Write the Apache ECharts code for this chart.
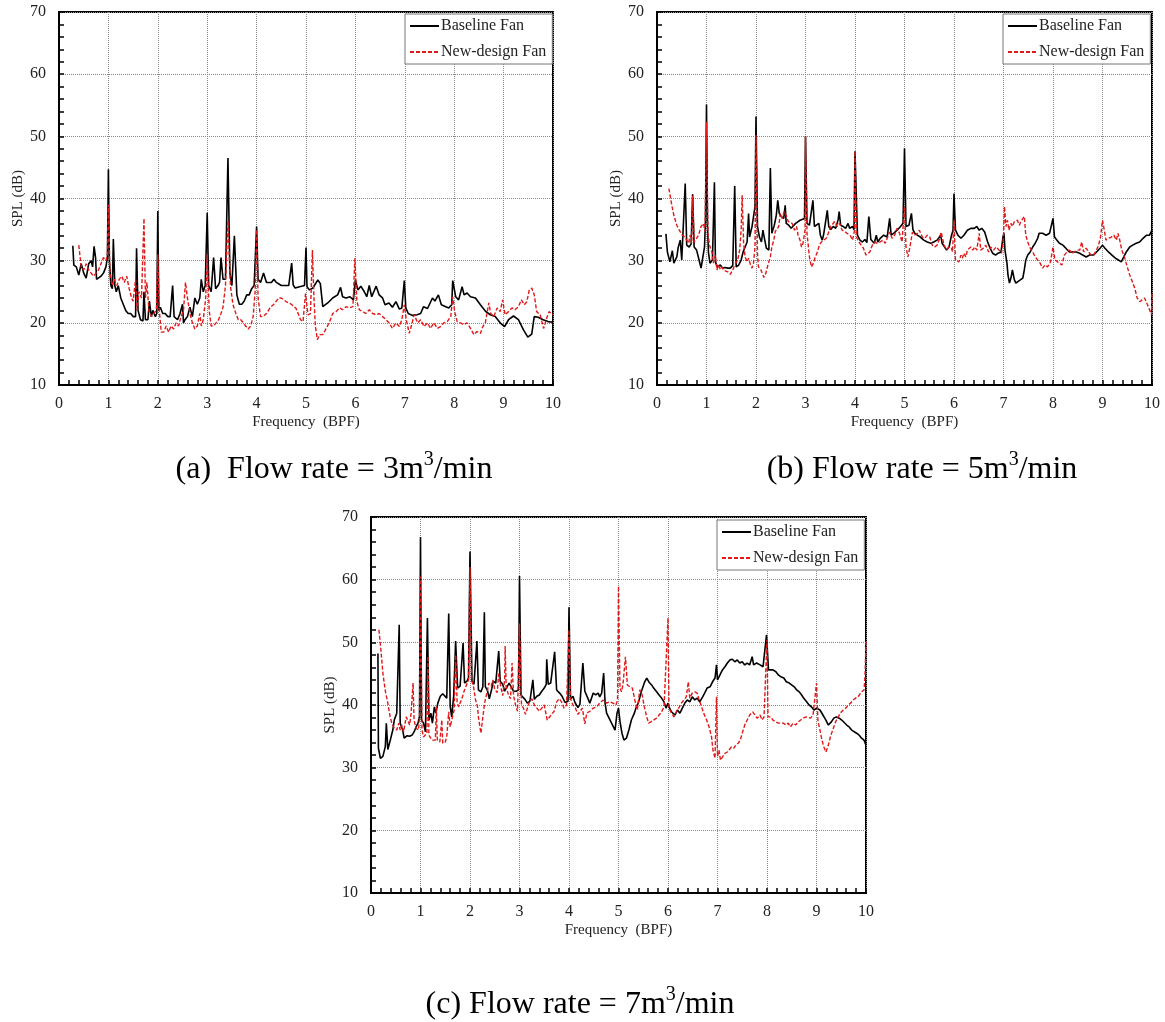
<!DOCTYPE html>
<html>
<head>
<meta charset="utf-8">
<script src="https://cdn.jsdelivr.net/npm/echarts@6/dist/echarts.min.js"></script>
<style>
html,body{margin:0;padding:0;background:#fff;}
#chart{width:1165px;height:1022px;}
</style>
</head>
<body>
<div id="chart"></div>
<script>
// ---------- data (Frequency in BPF, SPL in dB) ----------
const seriesNames = ['Baseline Fan', 'New-design Fan'];
const panelCaptions = ['(a)  Flow rate = 3m', '(b) Flow rate = 5m', '(c) Flow rate = 7m'];
const xTickRange = [0, 10];
const yTickRange = [10, 70];

const baselineA = [[0.28,32.4],[0.3,29.3],[0.35,29],[0.4,27.7],[0.45,29.5],[0.5,28],[0.55,27.2],[0.6,29.5],[0.65,30],[0.68,29],[0.71,32.3],[0.74,30.5],[0.76,27],[0.8,27],[0.85,27.5],[0.9,28],[0.95,29],[0.98,30.5],[1.0,44.7],[1.02,30],[1.05,26],[1.08,25.5],[1.1,33.5],[1.13,26],[1.16,25],[1.2,26],[1.25,24],[1.3,23],[1.35,22],[1.4,21.5],[1.45,21.5],[1.5,21],[1.55,21],[1.57,32],[1.6,22],[1.65,20.5],[1.7,20.3],[1.72,25],[1.75,20.5],[1.8,20.5],[1.83,23.5],[1.87,21],[1.9,22],[1.95,21],[1.98,21.5],[2.0,38],[2.02,22],[2.05,22.5],[2.1,21.5],[2.15,21.5],[2.2,21],[2.25,21],[2.3,26],[2.33,21],[2.4,20.5],[2.45,21.5],[2.5,23],[2.52,20],[2.55,20.5],[2.6,21],[2.65,22.5],[2.7,21],[2.75,24],[2.8,23],[2.85,24],[2.88,27],[2.92,25],[2.96,26],[3.0,37.7],[3.03,26],[3.08,25],[3.13,30.5],[3.17,25.5],[3.22,26],[3.25,26.5],[3.28,30.5],[3.32,27],[3.37,27],[3.42,46.5],[3.46,28],[3.5,26],[3.55,34],[3.6,24.5],[3.65,23],[3.7,23],[3.75,23.5],[3.8,24.5],[3.85,24.5],[3.9,25.5],[3.95,26],[4.0,35.5],[4.03,27],[4.08,26.5],[4.14,28],[4.2,26.5],[4.3,26.5],[4.35,27],[4.4,26.5],[4.5,26],[4.6,26],[4.65,26],[4.71,29.6],[4.74,26.1],[4.78,25.6],[4.87,25.8],[4.97,26],[5.0,32.1],[5.02,25.8],[5.07,25.3],[5.14,25.6],[5.24,26.9],[5.29,26.3],[5.34,22.6],[5.44,23.2],[5.54,24],[5.64,24.5],[5.7,25.7],[5.74,24.2],[5.81,24],[5.89,24.2],[5.96,23.7],[6.0,26.9],[6.05,25.3],[6.11,25.9],[6.18,25],[6.23,24.2],[6.28,26],[6.33,24.2],[6.42,25.9],[6.48,24.5],[6.55,24],[6.6,22.9],[6.68,23.2],[6.75,22.5],[6.82,23.4],[6.89,22.2],[6.94,22.4],[6.99,26.8],[7.02,22.4],[7.07,21.5],[7.15,21.2],[7.25,21.3],[7.32,21.5],[7.38,22.6],[7.46,22.3],[7.56,24],[7.61,23.5],[7.68,24.5],[7.74,22.9],[7.83,22.6],[7.89,22.4],[7.95,22.9],[7.97,26.8],[8.03,24.2],[8.09,23.7],[8.16,25.8],[8.2,24.5],[8.26,24.8],[8.33,24.2],[8.43,24],[8.53,22.9],[8.63,21.9],[8.73,21.3],[8.83,21],[8.93,20],[9.02,19.4],[9.1,20.5],[9.2,21.1],[9.3,20.5],[9.4,18.9],[9.49,17.7],[9.57,18.2],[9.62,21],[9.7,20.9],[9.8,20.5],[9.9,20.2],[10,20.1]];

const newDesignA = [[0.4,32.5],[0.45,29],[0.5,28.5],[0.55,29.5],[0.6,28.5],[0.65,28],[0.7,27.5],[0.75,28],[0.8,28.5],[0.85,29.5],[0.9,30.5],[0.95,30],[0.98,31],[1.0,39],[1.03,28],[1.08,26],[1.12,27],[1.17,26],[1.22,27],[1.27,27.5],[1.32,26.5],[1.37,27.5],[1.42,25.5],[1.47,24],[1.5,23.5],[1.55,27],[1.58,22],[1.62,25],[1.67,24],[1.72,36.8],[1.75,24],[1.78,26.5],[1.82,22],[1.87,21],[1.92,21.5],[1.97,22],[2.0,31],[2.03,22],[2.07,18.5],[2.12,18.5],[2.17,19.5],[2.22,18.5],[2.27,19.5],[2.32,19],[2.37,20],[2.42,19.5],[2.47,21],[2.52,22],[2.56,26.5],[2.6,24],[2.65,21.5],[2.7,20],[2.75,19],[2.8,19.5],[2.85,21.5],[2.88,19.5],[2.92,20.5],[2.97,24],[3.0,31],[3.04,22],[3.08,19.5],[3.13,19.5],[3.18,20],[3.23,20.5],[3.28,21.5],[3.32,22.5],[3.37,26],[3.42,36.5],[3.47,26],[3.52,23],[3.58,21.5],[3.63,20.5],[3.68,20.5],[3.73,20],[3.78,19.5],[3.83,19],[3.88,19.5],[3.93,21],[3.97,25],[4.0,35],[4.03,24],[4.08,21],[4.13,21],[4.2,21.5],[4.28,22.5],[4.35,23],[4.45,24],[4.5,24],[4.6,23.4],[4.7,23],[4.8,22.3],[4.89,20.5],[4.94,20.2],[4.99,24.7],[5.04,21.3],[5.09,21.5],[5.13,31.7],[5.16,24.2],[5.19,19.4],[5.23,17.3],[5.28,18.1],[5.34,18.1],[5.41,19.1],[5.48,20.2],[5.54,21.5],[5.61,21.8],[5.68,22.4],[5.74,22.1],[5.81,22.6],[5.88,22.4],[5.95,22.6],[5.99,30.4],[6.03,23.4],[6.08,22.1],[6.15,21.8],[6.21,21.5],[6.28,22.1],[6.35,21.5],[6.42,21.3],[6.48,21.5],[6.55,21],[6.62,20.5],[6.68,20],[6.75,19.1],[6.82,20],[6.89,19.4],[6.94,20.5],[6.99,22.9],[7.03,20.5],[7.09,18.3],[7.13,19.4],[7.19,21.3],[7.26,20],[7.32,20.5],[7.39,19.4],[7.46,20],[7.52,19.1],[7.59,20],[7.66,19.1],[7.72,19.4],[7.79,20],[7.86,20.2],[7.93,21],[7.97,24.2],[8.01,21.8],[8.06,20.2],[8.13,20],[8.19,19.7],[8.26,20],[8.33,19.1],[8.4,18.1],[8.46,18.6],[8.53,18.3],[8.58,19.4],[8.63,20],[8.7,23.2],[8.74,21.5],[8.8,21],[8.87,22.4],[8.93,21.8],[8.98,23.7],[9.03,21.3],[9.1,21.8],[9.17,22.4],[9.23,22.1],[9.3,22.6],[9.36,23.7],[9.42,22.9],[9.47,23.4],[9.52,25.3],[9.57,25.6],[9.62,24.5],[9.67,21.8],[9.74,21.3],[9.81,19.1],[9.87,20.7],[9.92,21.8],[10,21.3]];

const baselineB = [[0.18,34.3],[0.21,31.4],[0.26,29.8],[0.31,31.6],[0.34,29.6],[0.4,30.6],[0.43,32.2],[0.47,33.3],[0.5,30.1],[0.53,30.4],[0.57,42.4],[0.6,32.5],[0.65,32.2],[0.69,32.7],[0.72,40.7],[0.75,32.2],[0.8,31.7],[0.85,30.1],[0.89,28.8],[0.93,29],[0.96,32.2],[0.98,36.5],[1.0,55.1],[1.02,35.5],[1.04,31.3],[1.07,29.6],[1.12,30.1],[1.16,42.6],[1.18,29.8],[1.22,29],[1.28,29.3],[1.32,28.8],[1.38,28.9],[1.43,28.8],[1.48,28.8],[1.53,29.2],[1.57,42],[1.6,29],[1.65,29.3],[1.7,30.1],[1.74,31.4],[1.78,32.2],[1.82,33],[1.85,37.6],[1.87,33.8],[1.92,35.5],[1.95,37.1],[1.98,38.7],[2.0,53.2],[2.03,35.5],[2.07,33.8],[2.11,33],[2.14,34.9],[2.17,33.6],[2.21,32],[2.26,31.7],[2.29,44.9],[2.32,34.4],[2.37,35.7],[2.41,37.3],[2.44,39.7],[2.47,37.6],[2.51,37.1],[2.56,36.8],[2.59,38.9],[2.61,36],[2.66,35.7],[2.71,35.2],[2.75,35.5],[2.8,36],[2.84,36.3],[2.89,36.5],[2.93,36.3],[2.98,36.8],[3.0,50],[3.03,36],[3.08,35.7],[3.11,35.5],[3.15,39.7],[3.18,35.5],[3.22,35.7],[3.27,36],[3.3,34.1],[3.34,33.3],[3.37,34.4],[3.41,34.6],[3.44,38.1],[3.47,35.5],[3.51,35],[3.56,35.5],[3.61,35.2],[3.66,36.6],[3.68,37.9],[3.71,35.7],[3.76,35.5],[3.81,35.2],[3.86,36],[3.89,35.2],[3.95,35.5],[3.98,35],[4.0,47.6],[4.05,34.1],[4.1,33.3],[4.15,33],[4.2,33.4],[4.24,32.9],[4.28,37.1],[4.32,33.4],[4.39,32.8],[4.43,34.1],[4.46,33],[4.51,33.6],[4.58,34.1],[4.65,33.8],[4.7,36.8],[4.73,34.1],[4.78,34.4],[4.85,34.9],[4.92,35.5],[4.97,36],[5.0,48.1],[5.03,35.5],[5.07,35.7],[5.09,35.7],[5.14,37.6],[5.17,35],[5.21,34.4],[5.26,34.1],[5.32,33.8],[5.39,33.3],[5.46,33],[5.53,32.8],[5.59,33],[5.66,33.3],[5.73,34.1],[5.76,32.8],[5.8,32.5],[5.85,31.7],[5.9,32.2],[5.95,34.1],[5.98,34.9],[6.0,40.8],[6.03,34.9],[6.08,34.1],[6.14,33.6],[6.2,34.1],[6.27,34.9],[6.34,35.2],[6.41,35.2],[6.46,35.5],[6.51,34.9],[6.56,35.2],[6.62,34.6],[6.68,33],[6.73,32],[6.78,31.2],[6.84,30.9],[6.89,31.2],[6.95,31.4],[6.99,33.8],[7.01,34.4],[7.03,31.7],[7.07,29.6],[7.09,27.7],[7.12,26.4],[7.15,27.2],[7.18,28.5],[7.22,26.9],[7.25,26.4],[7.28,26.6],[7.34,26.9],[7.39,27.2],[7.42,28.5],[7.45,30.1],[7.49,30.9],[7.54,31.4],[7.59,32.2],[7.64,32.8],[7.69,33.6],[7.72,34.4],[7.79,34.4],[7.86,34.1],[7.93,34.4],[7.97,34.1],[8.0,36.8],[8.03,33.8],[8.08,33.3],[8.13,32.8],[8.2,32.5],[8.26,32],[8.33,31.4],[8.4,31.4],[8.47,31.4],[8.54,31.2],[8.6,30.9],[8.67,30.6],[8.74,30.9],[8.82,30.9],[8.88,31.4],[8.95,32],[9.0,32.5],[9.05,32],[9.12,31.4],[9.19,30.9],[9.26,30.4],[9.32,30.1],[9.38,29.8],[9.43,30.6],[9.48,31.4],[9.55,32.2],[9.61,32.5],[9.68,32.8],[9.75,33],[9.82,33.6],[9.89,34.1],[9.95,34.1],[10,34.9]];

const newDesignB = [[0.24,41.6],[0.3,38.9],[0.34,37.3],[0.4,35.7],[0.45,34.9],[0.51,34.1],[0.56,33.8],[0.6,33.6],[0.64,32.8],[0.67,34.1],[0.7,32.8],[0.72,40.5],[0.75,33],[0.79,33.3],[0.84,34.1],[0.89,35.5],[0.94,36],[0.97,34.7],[1.0,52.3],[1.03,34.4],[1.06,32.5],[1.11,31.4],[1.14,29.6],[1.18,30.9],[1.21,28.5],[1.24,29.3],[1.28,28.6],[1.31,29],[1.34,28.5],[1.38,28.4],[1.43,28.2],[1.48,27.8],[1.53,28.5],[1.57,29.3],[1.6,29],[1.63,30.1],[1.67,31.7],[1.7,34.9],[1.72,40.5],[1.75,32.8],[1.78,30.6],[1.82,29.8],[1.85,30.4],[1.89,29.3],[1.92,28.8],[1.95,29.6],[1.98,32.2],[2.0,50.2],[2.03,31.2],[2.05,29],[2.1,28.5],[2.16,27.3],[2.2,28],[2.24,29.3],[2.29,30.6],[2.32,32.2],[2.36,33.3],[2.39,34.7],[2.43,34.9],[2.46,35.5],[2.49,37.6],[2.53,36.8],[2.57,37.9],[2.61,37.3],[2.65,36.3],[2.68,36.5],[2.73,36],[2.78,34.9],[2.82,35.5],[2.85,34.1],[2.89,33.3],[2.92,32.2],[2.95,32.8],[2.99,34.9],[3.0,50],[3.03,34.4],[3.08,30.6],[3.12,29],[3.16,29.6],[3.19,30.4],[3.24,31.4],[3.28,32.5],[3.32,33],[3.37,33.3],[3.42,33.6],[3.46,34.4],[3.51,35.5],[3.55,35.2],[3.59,36.3],[3.64,35.5],[3.69,36],[3.74,34.9],[3.79,34.7],[3.84,34.4],[3.9,34.1],[3.95,33.3],[3.99,34.9],[4.0,47.6],[4.03,33.8],[4.08,33],[4.12,32.8],[4.17,32],[4.22,30.9],[4.26,30.6],[4.3,31.4],[4.35,32.5],[4.4,33],[4.45,32.8],[4.5,33],[4.57,33.3],[4.61,32.8],[4.66,33.8],[4.7,34.6],[4.75,33.6],[4.8,34.1],[4.85,35.2],[4.9,34.4],[4.95,33],[5.0,38.7],[5.03,32.2],[5.07,30.6],[5.11,32.2],[5.16,34.6],[5.2,34.1],[5.26,34.4],[5.3,34.9],[5.36,33.8],[5.41,33.6],[5.46,34.1],[5.51,33.8],[5.56,32.5],[5.61,32.2],[5.66,32.5],[5.71,33.6],[5.74,34.6],[5.8,32.5],[5.85,31.7],[5.9,32.2],[5.95,32],[5.97,31.4],[6.0,36.5],[6.03,30.1],[6.07,30.4],[6.1,29.8],[6.14,30.9],[6.17,30.4],[6.2,31.2],[6.24,30.6],[6.27,31.7],[6.3,32],[6.34,32.2],[6.38,31.7],[6.42,32.2],[6.46,31.7],[6.51,34.4],[6.54,31.7],[6.59,32],[6.64,32.5],[6.7,31.4],[6.74,32.2],[6.8,31.7],[6.85,32.2],[6.91,31.7],[6.96,31.2],[7.0,33.6],[7.02,38.7],[7.05,35.5],[7.08,36.5],[7.11,34.9],[7.15,36],[7.18,35.5],[7.22,36.3],[7.25,36],[7.28,36.5],[7.32,35.7],[7.35,36.3],[7.39,36],[7.42,37.1],[7.45,34.1],[7.49,33],[7.54,32],[7.59,31.4],[7.64,30.6],[7.69,30.1],[7.74,29.6],[7.79,28.8],[7.84,29.3],[7.89,29],[7.95,29.8],[7.98,29.6],[8.0,32.2],[8.04,30.1],[8.08,29.8],[8.13,29.6],[8.18,29.3],[8.23,30.9],[8.28,31.4],[8.33,31.7],[8.39,31.2],[8.43,31.4],[8.49,31.7],[8.54,31.7],[8.58,33],[8.62,31.4],[8.67,32],[8.72,31.4],[8.77,30.9],[8.82,30.9],[8.88,31.7],[8.92,32.5],[8.96,33.8],[9.0,36.5],[9.03,35.2],[9.07,33.3],[9.12,33.6],[9.18,33.8],[9.23,34.1],[9.28,33.3],[9.31,34.4],[9.34,33.6],[9.39,31.7],[9.45,30.4],[9.5,29],[9.55,27.7],[9.59,26.9],[9.65,25.6],[9.7,24],[9.75,23.4],[9.8,23.7],[9.85,24],[9.91,22.9],[9.95,22.1],[9.99,21.3],[10,24.8]];

const baselineC = [[0.14,48.2],[0.15,33.1],[0.19,31.5],[0.24,31.8],[0.29,33.4],[0.31,37.1],[0.34,32.9],[0.39,34.4],[0.44,36],[0.47,37.6],[0.52,38.7],[0.55,39],[0.57,52.8],[0.59,37.1],[0.64,36],[0.67,34.7],[0.73,35.1],[0.78,35],[0.83,35.2],[0.87,35.7],[0.91,36.5],[0.95,37.1],[0.98,38.2],[1.0,66.8],[1.02,37.6],[1.06,37.1],[1.1,35.7],[1.14,53.9],[1.17,37.6],[1.21,38.7],[1.24,37.1],[1.28,39.7],[1.31,38.7],[1.35,40.3],[1.4,41.4],[1.45,41.8],[1.48,41.6],[1.53,41.1],[1.57,54.6],[1.6,39.8],[1.63,38.1],[1.67,41.4],[1.71,50.2],[1.75,42.7],[1.8,43],[1.86,49.9],[1.89,43.5],[1.94,43.8],[1.97,44.3],[2.0,64.5],[2.04,43.8],[2.08,43.3],[2.14,50.2],[2.17,42.4],[2.22,42.1],[2.26,42.9],[2.29,54.8],[2.31,42.9],[2.35,42.4],[2.39,41],[2.44,42.6],[2.47,43.8],[2.52,43.5],[2.56,43.3],[2.58,48.6],[2.61,43.8],[2.66,43.3],[2.7,42.2],[2.74,41.9],[2.79,43.5],[2.83,43.3],[2.88,42.2],[2.93,42.2],[2.98,42.4],[3.0,60.6],[3.03,41.6],[3.07,41.9],[3.11,40.9],[3.16,40.3],[3.21,40.6],[3.27,44],[3.3,40.9],[3.35,41.4],[3.4,41.6],[3.45,42.2],[3.5,42.7],[3.54,43.3],[3.55,47.3],[3.58,43.3],[3.63,43.5],[3.67,43.8],[3.71,48.5],[3.75,42.4],[3.81,41.9],[3.86,41.4],[3.92,40.4],[3.98,40.6],[4.0,55.6],[4.03,40.9],[4.08,41.4],[4.12,40.4],[4.18,39.6],[4.22,40.1],[4.28,46.7],[4.32,42.2],[4.39,40.9],[4.42,40.3],[4.49,41.9],[4.54,41.6],[4.59,41.9],[4.62,41.3],[4.66,41.9],[4.7,45.1],[4.73,40.2],[4.76,38.7],[4.86,37.1],[4.93,36],[4.97,38.7],[5.0,39.5],[5.03,37.4],[5.07,35.5],[5.11,34.4],[5.16,34.7],[5.21,36],[5.26,37.6],[5.32,38.7],[5.36,39.7],[5.4,40.3],[5.46,42.1],[5.53,43.7],[5.57,44.3],[5.62,43.6],[5.67,43.2],[5.71,42.7],[5.77,42.1],[5.82,41.6],[5.87,41.1],[5.92,40.5],[5.96,39.5],[6.0,40.3],[6.02,39.7],[6.07,38.9],[6.14,38.4],[6.19,39.2],[6.24,38.7],[6.29,39.5],[6.34,40.3],[6.39,40.8],[6.44,40.5],[6.49,41.3],[6.54,40.8],[6.59,41.1],[6.64,40.5],[6.7,41.3],[6.74,41.9],[6.79,42.7],[6.85,42.9],[6.9,43.7],[6.95,44.3],[6.98,46.4],[7.0,44],[7.05,44.8],[7.1,45.6],[7.15,46.1],[7.2,46.7],[7.25,47.2],[7.3,47.3],[7.35,46.9],[7.4,47.2],[7.45,46.7],[7.5,46.9],[7.55,46.4],[7.6,46.7],[7.65,46.4],[7.7,47.7],[7.73,46.4],[7.79,46.7],[7.86,46.4],[7.92,46.1],[7.96,45.9],[7.99,51.2],[8.03,45.6],[8.07,45.3],[8.12,45.6],[8.18,45.3],[8.23,44.8],[8.28,44.5],[8.34,44.3],[8.39,43.7],[8.45,43.5],[8.49,43.2],[8.55,42.9],[8.6,42.4],[8.65,42.1],[8.7,41.6],[8.74,41.1],[8.8,40.5],[8.85,40],[8.9,39.7],[8.95,39.2],[9.0,39.5],[9.07,39.2],[9.13,38.4],[9.19,37.6],[9.24,36.8],[9.3,37.3],[9.35,37.9],[9.4,38.1],[9.46,37.9],[9.51,37.6],[9.55,37.3],[9.61,36.8],[9.66,36.5],[9.71,36],[9.75,35.7],[9.81,35.5],[9.86,35.2],[9.91,34.7],[9.96,34.4],[10,33.6]];

const newDesignC = [[0.16,52],[0.2,48.8],[0.24,45.1],[0.29,42.2],[0.34,40.3],[0.38,38.4],[0.42,37.1],[0.47,36.3],[0.52,36],[0.56,37.1],[0.59,36],[0.62,36.8],[0.66,35.7],[0.71,38.1],[0.74,37.6],[0.78,36.8],[0.81,38.7],[0.85,43.5],[0.87,37.6],[0.91,36.3],[0.96,36],[0.98,38],[1.0,60.5],[1.03,36],[1.06,34.9],[1.1,34.7],[1.13,35.5],[1.15,47.8],[1.17,35.2],[1.2,34.9],[1.23,34.4],[1.26,34.7],[1.3,34.4],[1.32,39.7],[1.34,34.4],[1.39,34.1],[1.43,37.6],[1.45,33.9],[1.5,34.1],[1.53,34.9],[1.57,38.9],[1.6,36.5],[1.64,37.9],[1.68,39.2],[1.71,48],[1.74,40.5],[1.77,39.7],[1.8,40],[1.84,41.1],[1.88,42.2],[1.92,43],[1.97,44],[2.0,62],[2.03,44],[2.07,43],[2.11,40.9],[2.15,39.8],[2.17,38.1],[2.22,35.5],[2.26,38.1],[2.29,40],[2.31,40.9],[2.35,42.2],[2.38,43.5],[2.43,43],[2.46,44],[2.5,42.5],[2.55,42],[2.58,45],[2.62,43],[2.66,41.5],[2.7,44],[2.71,49.4],[2.73,43],[2.78,41.5],[2.82,41],[2.85,46.7],[2.88,41.5],[2.92,40],[2.96,39],[3.0,53],[3.04,40],[3.08,39.5],[3.12,38.5],[3.16,39.5],[3.2,40.5],[3.25,41],[3.3,40],[3.35,39.5],[3.4,39],[3.45,39.5],[3.5,40],[3.56,37.6],[3.6,38],[3.65,38.5],[3.7,39],[3.75,40.5],[3.8,41],[3.85,40.5],[3.9,39.5],[3.95,40],[4.0,52],[4.03,41],[4.08,40],[4.13,39.5],[4.18,38.5],[4.22,38.7],[4.27,39.5],[4.32,37],[4.36,38.7],[4.42,39],[4.49,39.5],[4.56,39.7],[4.62,40.3],[4.69,40.8],[4.76,40.3],[4.82,40.5],[4.89,40.3],[4.95,40],[4.98,40.8],[5.0,59],[5.03,42.7],[5.06,42.1],[5.09,43.2],[5.14,47.7],[5.18,43.2],[5.23,42.9],[5.28,42.7],[5.33,40.8],[5.38,39.2],[5.43,42.4],[5.47,41.9],[5.52,39.8],[5.57,38.1],[5.61,37.1],[5.67,37.4],[5.71,37.6],[5.77,37.9],[5.82,38.4],[5.87,38.9],[5.92,39.7],[5.96,40],[6.0,53.9],[6.02,39.5],[6.07,38.7],[6.12,38.1],[6.17,38.9],[6.23,39.7],[6.27,40.3],[6.32,40.8],[6.37,41.3],[6.41,43.7],[6.44,41.1],[6.49,41.9],[6.54,42.1],[6.59,41.9],[6.63,40.8],[6.68,39.7],[6.72,38.7],[6.78,37.6],[6.83,36.5],[6.88,34.9],[6.91,32.7],[6.95,31.5],[6.98,41.3],[7.0,31.8],[7.03,32.8],[7.06,31.2],[7.1,31.5],[7.15,32.3],[7.2,32.5],[7.24,32.8],[7.28,33.3],[7.33,33.1],[7.37,33.6],[7.42,33.9],[7.46,34.4],[7.5,35.5],[7.55,36.8],[7.6,37.6],[7.65,38.4],[7.71,38.9],[7.75,38.7],[7.8,37.9],[7.86,38.4],[7.9,37.6],[7.94,38.1],[7.98,37.9],[8.0,50.4],[8.02,38.1],[8.07,38.1],[8.12,37.6],[8.18,37.3],[8.23,37.1],[8.27,37.3],[8.33,37.1],[8.38,36.8],[8.43,37.1],[8.47,36.5],[8.53,37.1],[8.58,36.8],[8.63,37.3],[8.68,37.6],[8.73,37.9],[8.79,38.1],[8.83,38.4],[8.88,37.9],[8.93,38.4],[8.97,38.7],[9.0,43.5],[9.03,37.4],[9.07,36],[9.11,34.4],[9.15,33.3],[9.19,32.5],[9.24,33.6],[9.28,34.9],[9.34,36.3],[9.39,37.4],[9.44,38.1],[9.48,38.7],[9.54,39.2],[9.59,39.5],[9.64,40],[9.69,40.3],[9.74,40.8],[9.79,41.1],[9.84,41.3],[9.88,41.6],[9.91,42.1],[9.96,42.4],[9.98,44.5],[10,50.1]];

// ---------- layout / styling ----------
const SERIF = '"Liberation Serif","Times New Roman",serif';
const panels = [
  {grid:{left:59, top:12, width:494, height:373}, legend:{left:405, top:14}, base:baselineA, nd:newDesignA},
  {grid:{left:657, top:12, width:495, height:373}, legend:{left:1003, top:14}, base:baselineB, nd:newDesignB},
  {grid:{left:371, top:517, width:495, height:376}, legend:{left:717, top:520}, base:baselineC, nd:newDesignC}
];

const grids = [], xAxes = [], yAxes = [], series = [], legends = [];
panels.forEach((p, i) => {
  grids.push(Object.assign({show:true, borderColor:'#000', borderWidth:2, backgroundColor:'#fff'}, p.grid));
  xAxes.push({
    gridIndex:i, type:'value', min:xTickRange[0], max:xTickRange[1], interval:1,
    name:'Frequency  (BPF)', nameLocation:'middle', nameGap:30,
    nameTextStyle:{fontFamily:SERIF, fontSize:15, color:'#222'},
    axisLine:{onZero:false, lineStyle:{color:'#000', width:2}},
    axisTick:{inside:true, length:5, lineStyle:{color:'#000', width:1.5}},
    minorTick:{show:true, splitNumber:5, length:5, lineStyle:{color:'#000', width:1.5}},
    splitLine:{show:true, lineStyle:{type:'dotted', color:'#888', width:1}},
    axisLabel:{fontFamily:SERIF, fontSize:16, color:'#222', margin:11}
  });
  yAxes.push({
    gridIndex:i, type:'value', min:yTickRange[0], max:yTickRange[1], interval:10,
    name:'SPL (dB)', nameLocation:'middle', nameGap:33, nameRotate:90,
    nameTextStyle:{fontFamily:SERIF, fontSize:15, color:'#222'},
    axisLine:{onZero:false, lineStyle:{color:'#000', width:2}},
    axisTick:{inside:true, length:5, lineStyle:{color:'#000', width:1.5}},
    minorTick:{show:true, splitNumber:5, length:5, lineStyle:{color:'#000', width:1.5}},
    splitLine:{show:true, lineStyle:{type:'dotted', color:'#888', width:1}},
    axisLabel:{fontFamily:SERIF, fontSize:16, color:'#222', margin:13}
  });
  series.push({
    name:seriesNames[0], type:'line', xAxisIndex:i, yAxisIndex:i, data:p.base,
    symbol:'none', animation:false, z:3,
    lineStyle:{color:'#000', width:1.6}, itemStyle:{color:'#000'}
  });
  series.push({
    name:seriesNames[1], type:'line', xAxisIndex:i, yAxisIndex:i, data:p.nd,
    symbol:'none', animation:false, z:4,
    lineStyle:{color:'#e01818', width:1.4, type:[4,2]}, itemStyle:{color:'#e01818'}
  });
  legends.push({
    left:p.legend.left, top:p.legend.top, orient:'vertical',
    data:seriesNames, itemWidth:29, itemHeight:14, itemGap:10,
    padding:[4,6,4,4], backgroundColor:'#fff', borderColor:'#777', borderWidth:1, borderRadius:0,
    itemStyle:{opacity:0},
    textStyle:{fontFamily:SERIF, fontSize:16, color:'#222', padding:[0,0,0,-3]},
    selectedMode:false
  });
});

const capRich = {
  n:{fontFamily:SERIF, fontSize:32, fontWeight:'normal', color:'#000', lineHeight:40, verticalAlign:'middle'},
  s:{fontFamily:SERIF, fontSize:20, fontWeight:'normal', color:'#000', lineHeight:18, verticalAlign:'top'}
};
const titles = [
  {text:'{n|' + panelCaptions[0] + '}{s|3}{n|/min}', left:334, top:450},
  {text:'{n|' + panelCaptions[1] + '}{s|3}{n|/min}', left:922, top:450},
  {text:'{n|' + panelCaptions[2] + '}{s|3}{n|/min}', left:580, top:985}
].map(t => ({text:t.text, left:t.left, top:t.top, textAlign:'center', padding:0,
  textStyle:{fontWeight:'normal', fontFamily:SERIF, rich:capRich}}));

const chart = echarts.init(document.getElementById('chart'), null, {renderer:'canvas'});
chart.setOption({
  backgroundColor:'#fff',
  animation:false,
  title:titles,
  grid:grids, xAxis:xAxes, yAxis:yAxes, series:series, legend:legends
});
</script>
</body>
</html>
